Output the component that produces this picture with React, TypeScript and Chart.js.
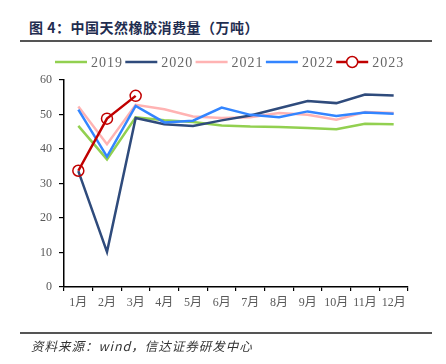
import React, { useEffect, useRef } from "react";
import { Chart, registerables } from "chart.js";

Chart.register(...registerables);

const months = ["1月", "2月", "3月", "4月", "5月", "6月", "7月", "8月", "9月", "10月", "11月", "12月"];
const yTicks = [0, 10, 20, 30, 40, 50, 60];

const s2019 = [46.7, 37.0, 49.2, 48.3, 47.8, 46.8, 46.5, 46.4, 46.1, 45.7, 47.3, 47.2];
const s2020 = [33.6, 10.2, 49.0, 47.2, 46.7, 48.3, 49.7, 51.8, 53.9, 53.3, 55.8, 55.5];
const s2021 = [52.3, 41.4, 52.8, 51.5, 49.4, 49.0, 49.2, 50.4, 49.9, 48.5, 50.7, 50.4];
const s2022 = [51.4, 37.8, 52.5, 47.7, 48.2, 52.0, 49.9, 49.2, 50.9, 49.6, 50.6, 50.2];
const s2023 = [33.7, 48.8, 55.4, null, null, null, null, null, null, null, null, null];

const seriesNames = ["2019", "2020", "2021", "2022", "2023"];
const seriesColors = ["#92d050", "#2f4b7c", "#ffb3b3", "#3385ff", "#c00000"];

const SERIF = '"Liberation Serif", "Times New Roman", "Noto Sans CJK SC", serif';

const legendPlugin = {
  id: "customLegend",
  afterDraw(chart: any) {
    const ctx = chart.ctx;
    ctx.save();
    const y = 62;
    const startX = 55;
    const step = 70.3;
    chart.data.datasets.forEach((ds: any, i: number) => {
      const x = startX + i * step;
      ctx.strokeStyle = ds.borderColor;
      ctx.lineWidth = 2.5;
      ctx.beginPath();
      ctx.moveTo(x, y);
      ctx.lineTo(x + 32, y);
      ctx.stroke();
      if (ds.pointRadius > 0) {
        ctx.beginPath();
        ctx.lineWidth = 1.5;
        ctx.fillStyle = "#ffffff";
        ctx.arc(x + 16, y, 5.5, 0, Math.PI * 2);
        ctx.fill();
        ctx.stroke();
      }
      ctx.fillStyle = "#666666";
      ctx.font = "14px " + SERIF;
      ctx.textBaseline = "middle";
      ctx.textAlign = "left";
      try { (ctx as any).letterSpacing = "1px"; } catch (e) {}
      ctx.fillText(ds.label, x + 36, y + 1);
      try { (ctx as any).letterSpacing = "0px"; } catch (e) {}
    });
    ctx.restore();
  },
};

export default function App() {
  const canvasRef = useRef<HTMLCanvasElement | null>(null);

  useEffect(() => {
    const canvas = canvasRef.current;
    if (!canvas) return;
    const all = [s2019, s2020, s2021, s2022, s2023];
    const orders = [4, 3, 5, 2, 0];
    const chart = new Chart(canvas, {
      type: "line",
      data: {
        labels: months,
        datasets: all.map((d, i) => ({
          label: seriesNames[i],
          data: d,
          borderColor: seriesColors[i],
          backgroundColor: i === 4 ? "rgba(255,255,255,0)" : seriesColors[i],
          borderWidth: 2.5,
          pointRadius: i === 4 ? 5.5 : 0,
          pointHoverRadius: i === 4 ? 5.5 : 0,
          pointBorderWidth: 1.5,
          pointBorderColor: seriesColors[i],
          pointBackgroundColor: "rgba(255,255,255,0)",
          tension: 0,
          spanGaps: false,
          order: orders[i],
        })),
      },
      options: {
        animation: false,
        responsive: false,
        maintainAspectRatio: false,
        layout: { padding: { top: 80, left: 0, right: 38, bottom: 47 } },
        plugins: {
          legend: { display: false },
          tooltip: { enabled: false },
          title: { display: false },
        },
        scales: {
          x: {
            type: "category",
            offset: true,
            grid: {
              offset: true,
              drawOnChartArea: false,
              drawTicks: true,
              tickLength: 4,
              color: "#000000",
              lineWidth: 1.2,
            },
            border: { display: true, color: "#000000", width: 1.5 },
            ticks: {
              autoSkip: false,
              maxRotation: 0,
              minRotation: 0,
              padding: 5,
              color: "#595959",
              font: { size: 12, family: SERIF },
            },
            afterFit(scale: any) {
              scale.height = 30;
            },
          },
          y: {
            min: 0,
            max: 60,
            afterBuildTicks(scale: any) {
              scale.ticks = yTicks.map((v) => ({ value: v }));
            },
            grid: {
              drawOnChartArea: false,
              drawTicks: true,
              tickLength: 5,
              color: "#000000",
              lineWidth: 1.2,
            },
            border: { display: true, color: "#000000", width: 1.5 },
            ticks: {
              padding: 7,
              color: "#595959",
              font: { size: 12, family: SERIF },
            },
            afterFit(scale: any) {
              scale.width = 64;
            },
          },
        },
      },
      plugins: [legendPlugin],
    } as any);
    return () => chart.destroy();
  }, []);

  return (
    <div style={{ position: "absolute", left: 0, top: 0, width: 446, height: 364, background: "#ffffff", overflow: "hidden" }}>
      <div
        style={{
          position: "absolute",
          left: 29,
          top: 18,
          fontFamily: '"Noto Sans CJK SC", sans-serif',
          fontSize: 14,
          fontWeight: "bold",
          color: "#1f2d50",
          whiteSpace: "nowrap",
          lineHeight: "18px",
          letterSpacing: "0.5px",
        }}
      >
        图 4：中国天然橡胶消费量（万吨）
      </div>
      <div style={{ position: "absolute", left: 20, top: 40, width: 412, height: 1.5, background: "#555555" }} />
      <canvas ref={canvasRef} width={446} height={364} style={{ position: "absolute", left: 0, top: 0, width: 446, height: 364 }} />
      <div style={{ position: "absolute", left: 20, top: 332, width: 412, height: 1.5, background: "#555555" }} />
      <div
        style={{
          position: "absolute",
          left: 31,
          top: 338,
          fontFamily: '"Noto Sans CJK SC", sans-serif',
          fontSize: 12.5,
          fontStyle: "italic",
          color: "#333333",
          whiteSpace: "nowrap",
          lineHeight: "15px",
          letterSpacing: "1px",
        }}
      >
        资料来源：wind，信达证券研发中心
      </div>
    </div>
  );
}
